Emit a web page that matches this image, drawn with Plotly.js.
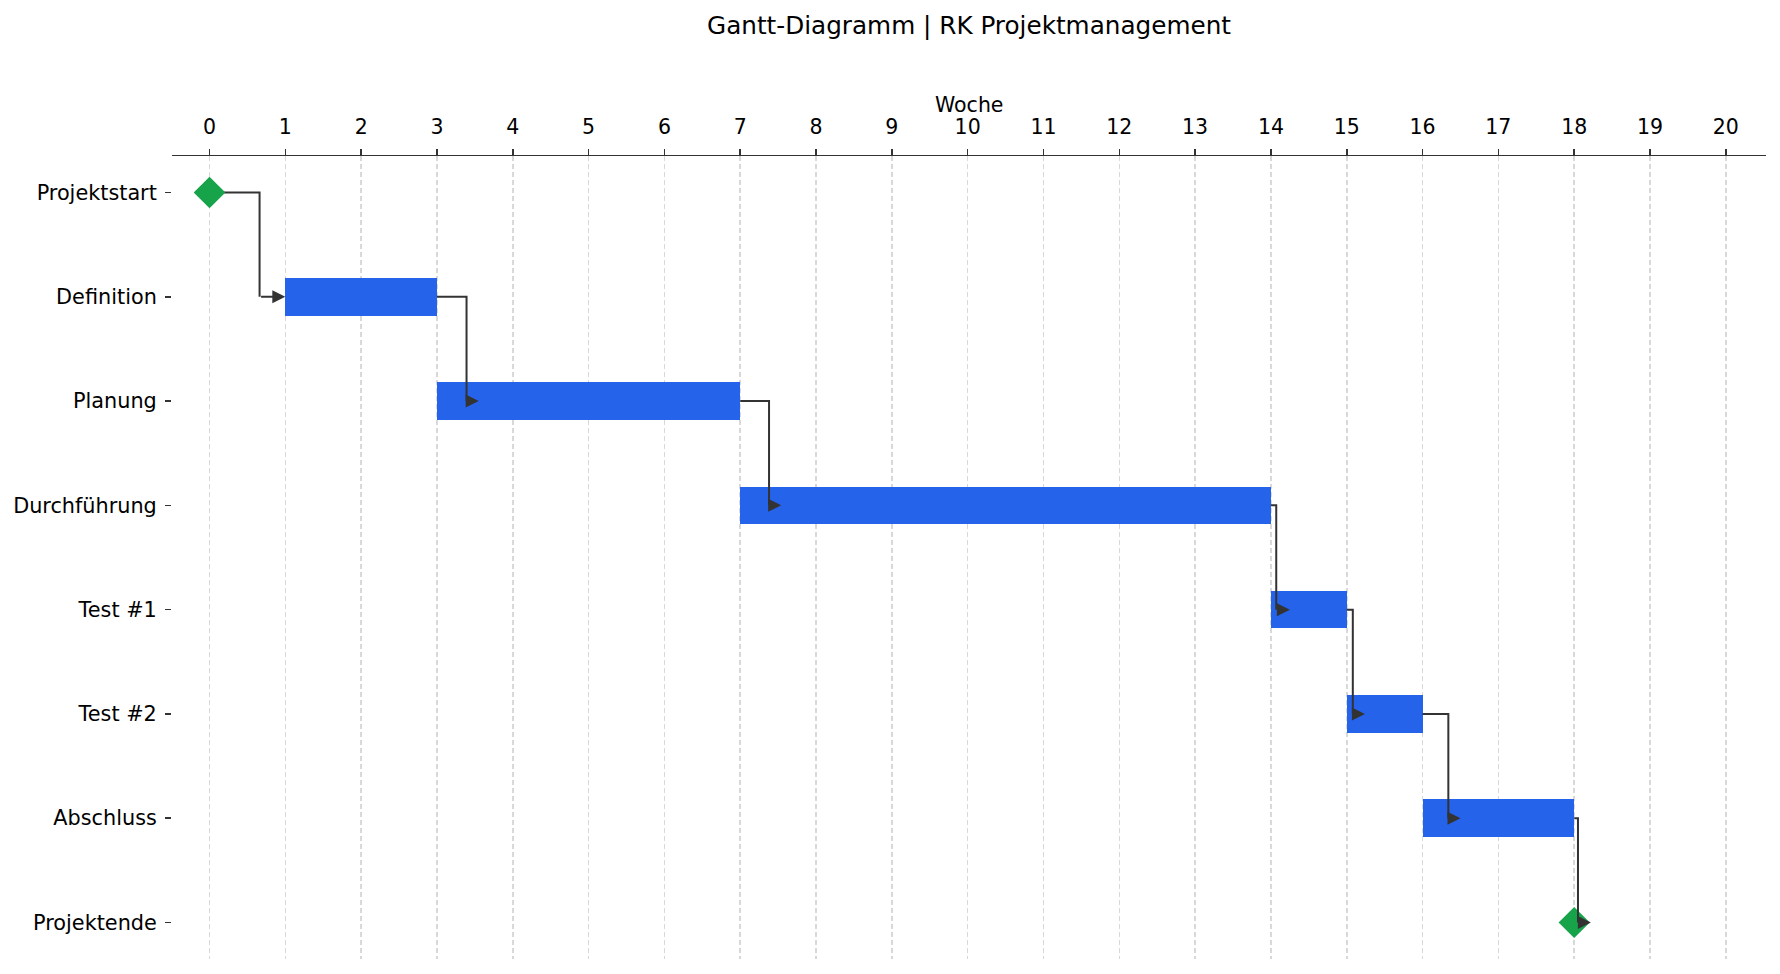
<!DOCTYPE html>
<html>
<head>
<meta charset="utf-8">
<script src="https://cdn.plot.ly/plotly-3.0.1.min.js"></script>
<style>html,body{margin:0;padding:0;background:#fff;}#chart{width:1780px;height:974px;}</style>
</head>
<body>
<div id="chart"></div>
<script>
// ---- data ----
const tasks = ["Projektstart","Definition","Planung","Durchführung","Test #1","Test #2","Abschluss","Projektende"];
const startWeek = [0, 1, 3, 7, 14, 15, 16, 18];
const durationWeeks = [0, 2, 4, 7, 1, 1, 2, 0];
const milestone = [true, false, false, false, false, false, false, true];
// dependency connectors (task i -> task i+1): elbow x and arrow tip x
const linkElbow = [0.66, 3.39, 7.38, 14.07, 15.08, 16.34, 18.05];
const linkTip = [1.0, 3.55, 7.54, 14.25, 15.24, 16.5, 18.22];
const weekTicks = [0,1,2,3,4,5,6,7,8,9,10,11,12,13,14,15,16,17,18,19,20];

const BLUE = '#2563eb', GREEN = '#16a34a', DARK = '#333333';
const FONT = 'DejaVu Sans, sans-serif';

const yIdx = tasks.map((_, i) => i);
const barIdx = yIdx.filter(i => !milestone[i]);
const msIdx = yIdx.filter(i => milestone[i]);
const msSourceIdx = msIdx.filter(i => i < tasks.length - 1);

const traces = [];
traces.push({
  type: 'bar', orientation: 'h',
  y: barIdx.map(i => i),
  x: barIdx.map(i => durationWeeks[i]),
  base: barIdx.map(i => startWeek[i]),
  width: 0.36,
  marker: {color: BLUE, line: {width: 0}},
  hoverinfo: 'skip', showlegend: false
});
traces.push({
  type: 'scatter', mode: 'markers',
  x: msIdx.map(i => startWeek[i]), y: msIdx.map(i => i),
  marker: {symbol: 'diamond', size: 24, color: GREEN, line: {width: 0}},
  hoverinfo: 'skip', showlegend: false
});
// connectors
const lx = [], ly = [];
for (let i = 0; i < tasks.length - 1; i++) {
  const end = startWeek[i] + durationWeeks[i];
  lx.push(end, linkElbow[i], linkElbow[i], null);
  ly.push(i, i, i + 1, null);
}
traces.push({
  type: 'scatter', mode: 'lines', x: lx, y: ly,
  line: {color: DARK, width: 2}, connectgaps: false,
  hoverinfo: 'skip', showlegend: false
});
// source milestones on top of connectors
traces.push({
  type: 'scatter', mode: 'markers',
  x: msSourceIdx.map(i => startWeek[i]), y: msSourceIdx.map(i => i),
  marker: {symbol: 'diamond', size: 24, color: GREEN, line: {width: 0}},
  hoverinfo: 'skip', showlegend: false
});

const annotations = [];
for (let i = 0; i < tasks.length - 1; i++) {
  annotations.push({
    x: linkTip[i], y: i + 1, ax: linkElbow[i], ay: i + 1,
    xref: 'x', yref: 'y', axref: 'x', ayref: 'y',
    text: '', showarrow: true, arrowhead: 2, arrowsize: 1.3, arrowwidth: 2,
    arrowcolor: DARK, standoff: 0, startstandoff: 0
  });
}
// x-axis title (top)
annotations.push({
  text: 'Woche', xref: 'paper', yref: 'paper', x: 0.5, y: 1 + (156 - 105) / 803,
  xanchor: 'center', yanchor: 'middle', showarrow: false,
  font: {family: FONT, size: 20.5, color: '#000'}
});

const layout = {
  width: 1780, height: 974,
  paper_bgcolor: '#fff', plot_bgcolor: '#fff',
  margin: {l: 172, r: 14, t: 156, b: 15},
  font: {family: FONT, size: 20.5, color: '#000'},
  title: {text: 'Gantt-Diagramm | RK Projektmanagement', font: {family: FONT, size: 24.7, color: '#000'},
          x: 0.5, xref: 'paper', y: 1 - 25/974, yref: 'container', yanchor: 'middle'},
  xaxis: {
    side: 'top', range: [-0.495, 20.53], tickvals: weekTicks, ticktext: weekTicks.map(String),
    showline: true, linecolor: DARK, linewidth: 1.5, mirror: false,
    ticks: 'outside', ticklen: 6, tickwidth: 1.5, tickcolor: DARK,
    showgrid: true, gridcolor: '#d8d8d8', gridwidth: 1.5, griddash: '5px,3px',
    zeroline: false, tickfont: {size: 20.5, color: '#000'}, ticklabelstandoff: 6
  },
  yaxis: {
    range: [7.35, -0.35], tickvals: yIdx, ticktext: tasks,
    showline: false, showgrid: false, zeroline: false,
    ticks: 'outside', ticklen: 6, tickwidth: 1.5, tickcolor: DARK,
    tickfont: {size: 20.8, color: '#000'}, ticklabelstandoff: 4
  },
  annotations: annotations,
  bargap: 0
};

Plotly.newPlot('chart', traces, layout, {staticPlot: true, displayModeBar: false});
</script>
</body>
</html>
